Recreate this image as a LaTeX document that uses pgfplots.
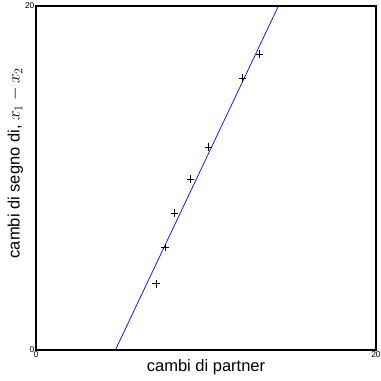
\documentclass[border=0pt]{standalone}
\usepackage{pgfplots}
\pgfplotsset{compat=1.18}
\usepackage{fontspec}
\setmainfont{Liberation Sans}
\begin{document}
\begin{tikzpicture}
\begin{axis}[
  scale only axis,
  width=340pt, height=344pt,
  xmin=0, xmax=20, ymin=0, ymax=20,
  xtick={0,20}, ytick={0,20},
  major tick length=0pt,
  axis line style={black, line width=1.1pt},
  /pgf/number format/assume math mode=true,
  tick label style={font=\fontsize{8.5}{9}\selectfont},
  xticklabel style={yshift=2pt},
  yticklabel style={xshift=2pt},
  xlabel={cambi di partner},
  ylabel={cambi di segno di, $x_1 - x_2$},
  label style={font=\fontsize{16.5}{19}\selectfont},
  xlabel style={yshift=5pt},
  ylabel style={yshift=-5pt, xshift=15pt},
  clip=true,
]
\addplot[blue, line width=0.7pt] coordinates {(4.67,0) (14.26,20)};
\addplot[only marks, mark=+, mark size=3.8pt, black, mark options={line width=0.6pt}] coordinates {
(7.05,3.85) (7.60,5.95) (8.15,7.95) (9.10,9.95) (10.15,11.8) (12.15,15.8) (13.15,17.2)
};
\end{axis}
\pgfresetboundingbox
\path ([shift={(-36pt,-31pt)}]current axis.south west) rectangle ([shift={(5pt,6pt)}]current axis.north east);
\end{tikzpicture}
\end{document}
